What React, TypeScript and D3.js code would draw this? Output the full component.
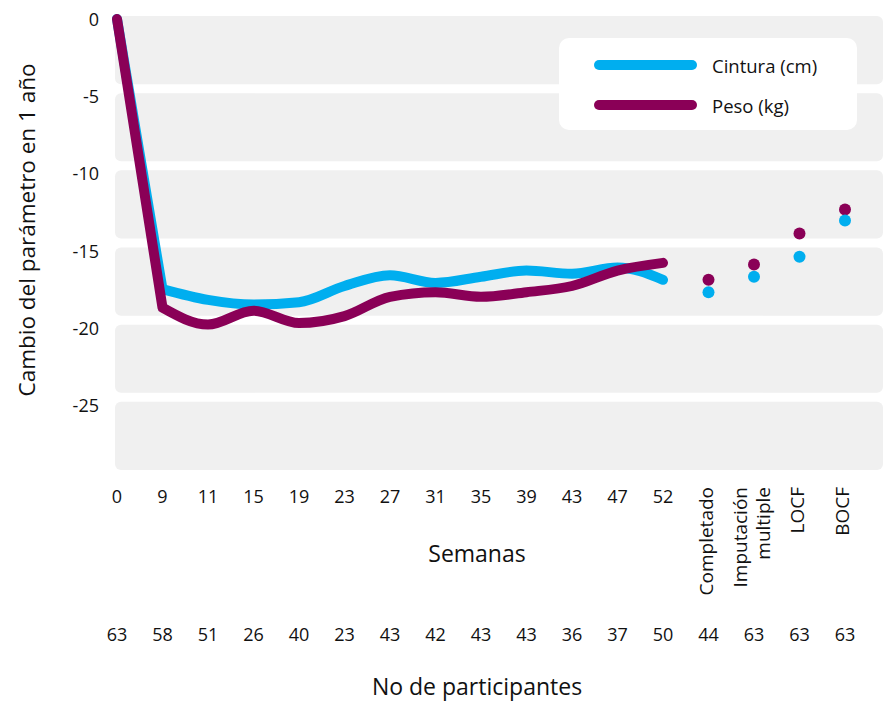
import React from "react";
import * as d3 from "d3";

// Weekly measurement points, then the four summary methods
const weekLabels = ["0", "9", "11", "15", "19", "23", "27", "31", "35", "39", "43", "47", "52"];
const methodKeys = ["Completado", "Imputación multiple", "LOCF", "BOCF"];
const methodLines = [["Completado"], ["Imputación", "multiple"], ["LOCF"], ["BOCF"]];

// Number of participants under each column
const participants = [63, 58, 51, 26, 40, 23, 43, 42, 43, 43, 36, 37, 50, 44, 63, 63, 63];

// Change over one year
const cinturaWeekly = [0, -17.5, -18.2, -18.5, -18.35, -17.3, -16.6, -17.1, -16.7, -16.3, -16.5, -16.1, -16.9];
const pesoWeekly = [0, -18.7, -19.8, -18.9, -19.7, -19.25, -18.0, -17.7, -18.0, -17.7, -17.3, -16.3, -15.8];
const cinturaMethods = [-17.7, -16.7, -15.4, -13.05];
const pesoMethods = [-16.9, -15.9, -13.9, -12.35];

const yTicks = [0, -5, -10, -15, -20, -25];

const seriesNames = ["Cintura (cm)", "Peso (kg)"];
const CYAN = "#00AEEF";
const PURPLE = "#8A0057";
const BAND = "#F0F0F0";
const INK = "#111";
const FONT = "'Open Sans', sans-serif";

const W = 884;
const H = 701;

type Pt = { w: string; v: number };

export default function App() {
  const categories = [...weekLabels, ...methodKeys];
  const x = d3.scalePoint<string>().domain(categories).range([117, 845]).padding(0);
  const y = d3.scaleLinear().domain([-30, 0]).range([482, 19]);

  const toPts = (vals: number[]): Pt[] => vals.map((v, i) => ({ w: weekLabels[i], v }));

  // straight initial drop, smooth follow-up
  const dropLine = d3
    .line<Pt>()
    .x((d) => x(d.w) as number)
    .y((d) => y(d.v))
    .curve(d3.curveLinear);
  const smoothLine = d3
    .line<Pt>()
    .x((d) => x(d.w) as number)
    .y((d) => y(d.v))
    .curve(d3.curveMonotoneX);

  const seriesPath = (vals: number[]) => {
    const pts = toPts(vals);
    const a = dropLine(pts.slice(0, 2)) || "";
    const b = smoothLine(pts.slice(1)) || "";
    return a + b.replace(/^M/, "L");
  };

  const bandLeft = 115;
  const bandRight = 883;

  return (
    <div style={{ position: "absolute", left: 0, top: 0 }}>
      <svg width={W} height={H} style={{ display: "block", fontFamily: FONT }}>
        {/* horizontal bands */}
        {yTicks.map((t) => {
          const top = y(t) - 3;
          const h = y(t - 5) - y(t) - 9;
          return <rect key={t} x={bandLeft} y={top} width={bandRight - bandLeft} height={h} rx={6} fill={BAND} />;
        })}

        {/* y tick labels */}
        {yTicks.map((t) => (
          <text key={t} x={99} y={y(t)} textAnchor="end" dominantBaseline="central" fontSize={18} fill={INK}>
            {t}
          </text>
        ))}

        {/* y axis title */}
        <text
          transform={`translate(26, 230) rotate(-90)`}
          textAnchor="middle"
          dominantBaseline="central"
          fontSize={22.5}
          fill={INK}
        >
          Cambio del parámetro en 1 año
        </text>

        {/* lines */}
        <path d={seriesPath(cinturaWeekly)} fill="none" stroke={CYAN} strokeWidth={10} strokeLinecap="round" strokeLinejoin="round" />
        <path d={seriesPath(pesoWeekly)} fill="none" stroke={PURPLE} strokeWidth={10} strokeLinecap="round" strokeLinejoin="round" />

        {/* method dots */}
        {methodKeys.map((m, i) => (
          <g key={m}>
            <circle cx={x(m) as number} cy={y(pesoMethods[i])} r={6} fill={PURPLE} />
            <circle cx={x(m) as number} cy={y(cinturaMethods[i])} r={6} fill={CYAN} />
          </g>
        ))}

        {/* week labels */}
        {weekLabels.map((w) => (
          <text key={w} x={x(w) as number} y={496} textAnchor="middle" dominantBaseline="central" fontSize={18} fill={INK}>
            {w}
          </text>
        ))}

        {/* method labels, rotated */}
        {methodKeys.map((m, i) => {
          const lines = methodLines[i];
          const cx = (x(m) as number) - 3;
          return (
            <g key={m}>
              {lines.map((ln, j) => {
                const off = (j - (lines.length - 1) / 2) * 23;
                return (
                  <text
                    key={ln}
                    transform={`translate(${cx + off}, 487) rotate(-90)`}
                    textAnchor="end"
                    dominantBaseline="central"
                    fontSize={19}
                    fill={INK}
                  >
                    {ln}
                  </text>
                );
              })}
            </g>
          );
        })}

        <text x={477} y={553} textAnchor="middle" dominantBaseline="central" fontSize={23} fill={INK}>
          Semanas
        </text>

        {/* participant counts */}
        {categories.map((c, i) => (
          <text key={c} x={x(c) as number} y={634} textAnchor="middle" dominantBaseline="central" fontSize={18} fill={INK}>
            {participants[i]}
          </text>
        ))}

        <text x={477} y={686} textAnchor="middle" dominantBaseline="central" fontSize={23} fill={INK}>
          No de participantes
        </text>

        {/* legend */}
        <g>
          <rect x={559} y={38} width={298} height={92} rx={10} fill="#fff" />
          {seriesNames.map((s, i) => (
            <g key={s}>
              <line x1={599} x2={692} y1={65 + i * 40} y2={65 + i * 40} stroke={i === 0 ? CYAN : PURPLE} strokeWidth={10} strokeLinecap="round" />
              <text x={712} y={65 + i * 40} dominantBaseline="central" fontSize={18.5} fill={INK}>
                {s}
              </text>
            </g>
          ))}
        </g>
      </svg>
    </div>
  );
}
